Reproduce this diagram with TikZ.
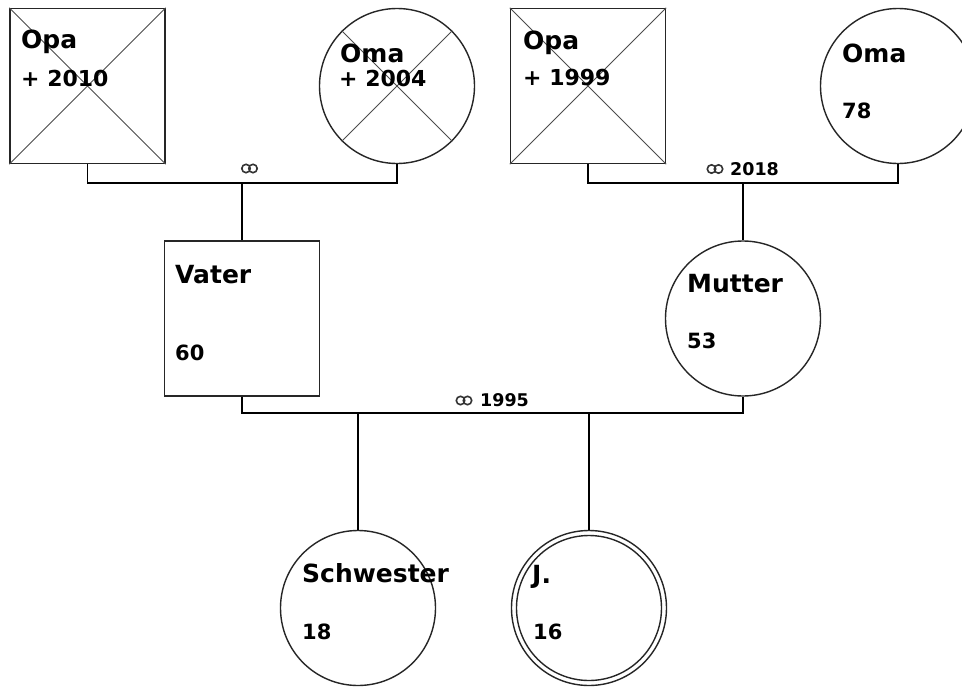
\documentclass[tikz,border=0pt]{standalone}
\usepackage{fontspec}
\setmainfont{DejaVu Sans}
\begin{document}
\begin{tikzpicture}[x=1pt,y=-1pt,
  malebox/.style={draw=black!85,line width=1.4pt,rectangle,minimum width=155pt,minimum height=155pt,inner sep=0pt},
  femalecirc/.style={draw=black!85,line width=1.4pt,circle,minimum size=155pt,inner sep=0pt},
  crossline/.style={draw=black!70,line width=0.9pt},
  linkline/.style={draw=black,line width=1.5pt},
  nametxt/.style={anchor=base west,inner sep=0pt,font=\fontsize{25}{25}\selectfont\bfseries},
  agetxt/.style={anchor=base west,inner sep=0pt,font=\fontsize{21}{21}\selectfont\bfseries},
  diedtxt/.style={anchor=base west,inner sep=0pt,font=\fontsize{22}{22}\selectfont\bfseries},
  yeartxt/.style={anchor=base west,inner sep=0pt,font=\fontsize{17.5}{17.5}\selectfont\bfseries},
  ringline/.style={draw=black!80,line width=1.6pt}
]
\clip (0,0) rectangle (962,686);
\fill[white] (0,0) rectangle (962,686);

% grandparents, father's side
\node[malebox] (opaL) at (87.5,86) {};
\draw[crossline] (opaL.north west) -- (opaL.south east) (opaL.north east) -- (opaL.south west);
\node[femalecirc] (omaL) at (397,86) {};
\draw[crossline] (omaL.45) -- (omaL.225) (omaL.135) -- (omaL.315);

% grandparents, mother's side
\node[malebox] (opaR) at (588,86) {};
\draw[crossline] (opaR.north west) -- (opaR.south east) (opaR.north east) -- (opaR.south west);
\node[femalecirc] (omaR) at (898,86) {};

% parents
\node[malebox] (vater) at (242,318.5) {};
\node[femalecirc] (mutter) at (743,318.5) {};

% children
\node[femalecirc] (schwester) at (358,608) {};
\node[femalecirc] (j) at (589,608) {};
\node[femalecirc,minimum size=145pt] (jin) at (589,608) {};

% texts
\node[nametxt] (tOpaL) at (21,48) {Opa};
\node[diedtxt] (dOpaL) at (21,86) {+ 2010};
\node[nametxt] (tOmaL) at (340,62) {Oma};
\node[diedtxt] (dOmaL) at (339,86) {+ 2004};
\node[nametxt] (tOpaR) at (523,49) {Opa};
\node[diedtxt] (dOpaR) at (523,85) {+ 1999};
\node[nametxt] (tOmaR) at (842,62) {Oma};
\node[agetxt] (aOmaR) at (842,118) {78};
\node[nametxt] (tVater) at (175,283) {Vater};
\node[agetxt] (aVater) at (175,360) {60};
\node[nametxt] (tMutter) at (687,292) {Mutter};
\node[agetxt] (aMutter) at (687,348) {53};
\node[nametxt] (tSchw) at (302,582) {Schwester};
\node[agetxt] (aSchw) at (302,639) {18};
\node[nametxt] (tJ) at (532,583) {J.};
\node[agetxt] (aJ) at (533,639) {16};

% partnership lines
\coordinate (m1) at (242,183);
\coordinate (m2) at (743,183);
\coordinate (m3) at (242,413);
\draw[linkline] (opaL.south) |- (m1) -| (omaL.south);
\draw[linkline] (m1) -- (vater.north);
\draw[linkline] (opaR.south) |- (m2) -| (omaR.south);
\draw[linkline] (m2) -- (mutter.north);
\draw[linkline] (vater.south) |- (m3) -| (mutter.south);
\draw[linkline] (schwester.north) -- (schwester.north |- m3);
\draw[linkline] (j.north) -- (j.north |- m3);

% wedding rings and years
\draw[ringline] (246,168.5) circle (4.2) (253,168.5) circle (4.2);
\draw[ringline] (711.5,169) circle (4.2) (718.5,169) circle (4.2);
\node[yeartxt] (y2018) at (730,175) {2018};
\draw[ringline] (460.5,400.5) circle (4.2) (467.5,400.5) circle (4.2);
\node[yeartxt] (y1995) at (480,406) {1995};
\end{tikzpicture}
\end{document}
